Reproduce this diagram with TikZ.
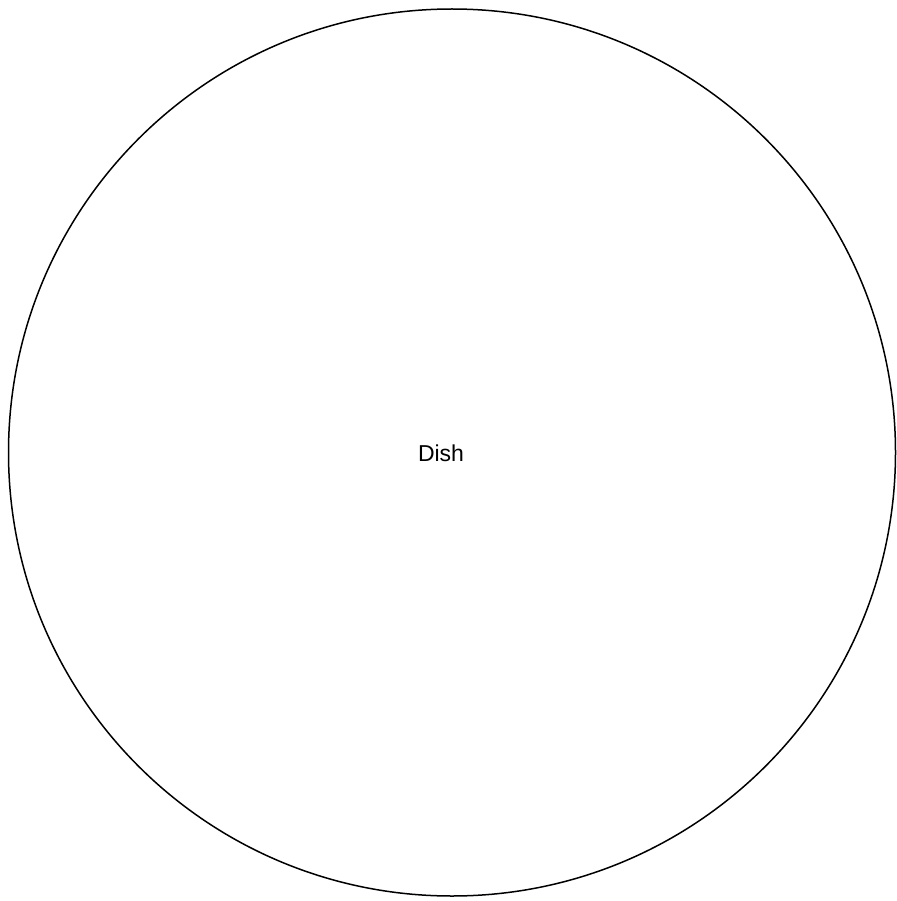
\documentclass[tikz,border=0pt]{standalone}
\usepackage{fontspec}
\setmainfont{Liberation Sans}
\begin{document}
\begin{tikzpicture}[x=1pt,y=-1pt]
\useasboundingbox (0,0) rectangle (896,901);
\node[circle,draw,line width=1.5pt,minimum size=887pt,inner sep=0pt] (dish) at (452,452.5) {};
\node[font=\fontsize{23}{27}\selectfont] (lbl) at (441,453) {Dish};
\end{tikzpicture}
\end{document}
